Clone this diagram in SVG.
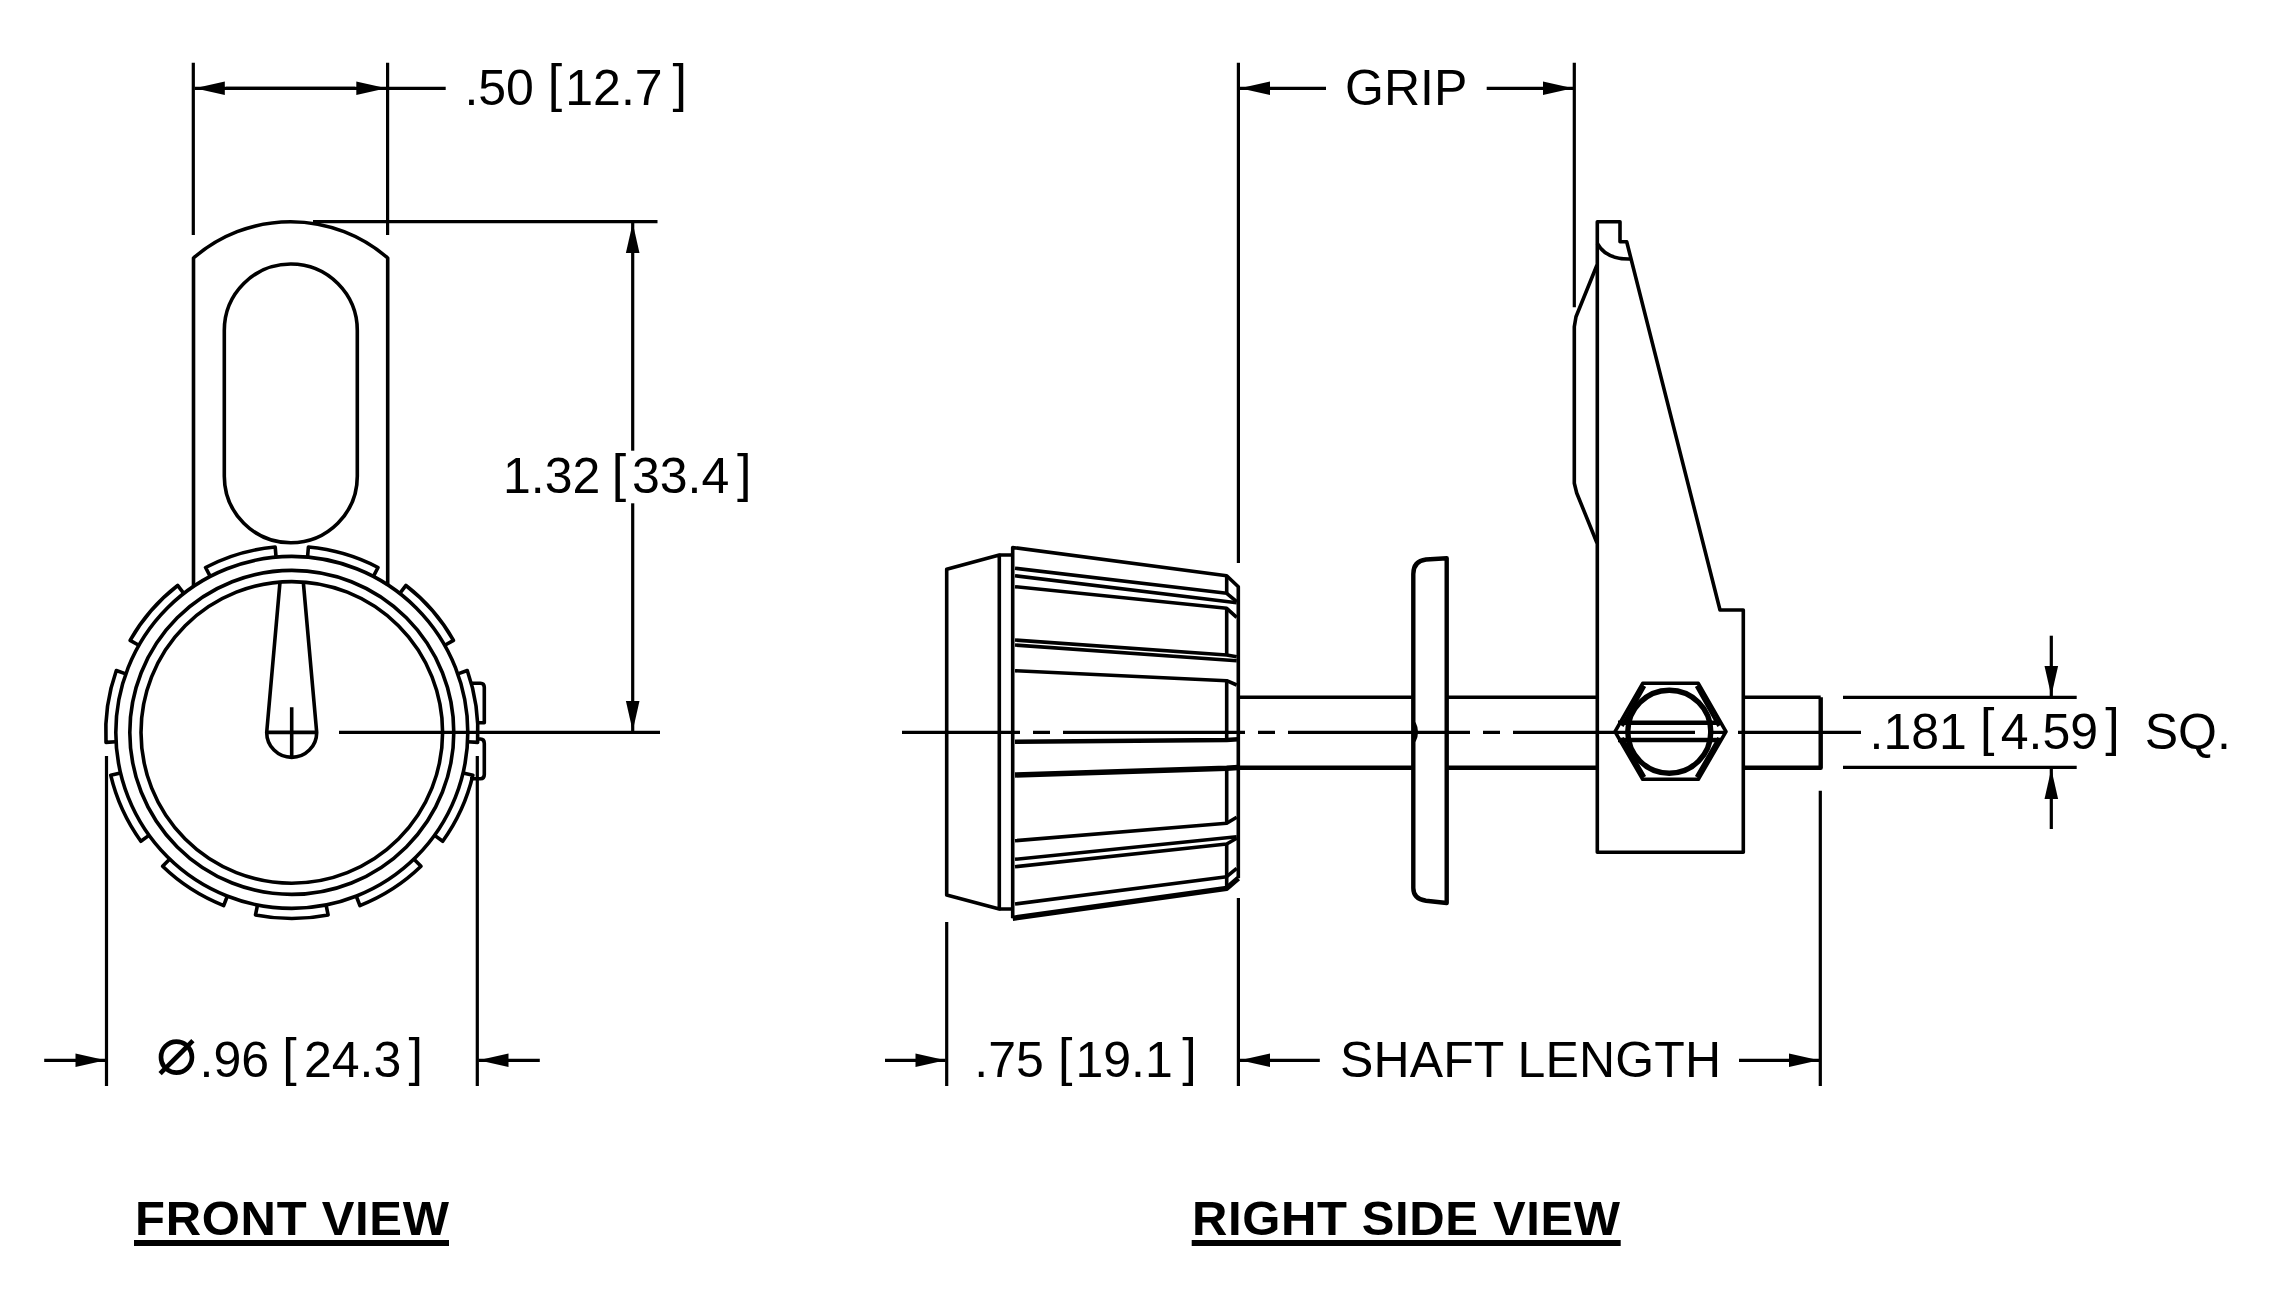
<svg xmlns="http://www.w3.org/2000/svg" width="2269" height="1316" viewBox="0 0 2269 1316">
<style>
.l{fill:none;stroke:#000;stroke-width:3.6;stroke-linejoin:round}
.t{stroke-width:4.4}
.h{stroke-width:5.4}
.d{fill:none;stroke:#000;stroke-width:3.2}
.a{marker-end:url(#arrow)}
text{font-family:"Liberation Sans",Arial,sans-serif;font-size:50px;fill:#000}
.b{font-size:52px;font-weight:normal}
.title{font-weight:bold;font-size:49px}
</style>
<defs>
<marker id="arrow" markerUnits="userSpaceOnUse" markerWidth="32" markerHeight="16" refX="31" refY="8" orient="auto" viewBox="0 0 32 16"><path d="M1,1.2 L31,8 L1,14.8 Z" fill="#000"/></marker>
<path id="tooth" class="l" d="M-34.3,-172.7 L-36.3,-182.5 A186,186 0 0 1 36.3,-182.5 L34.3,-172.7"/>
</defs>
<rect width="2269" height="1316" fill="#fff"/>
<g id="front-view">
<g id="handle">
<path class="l" d="M193.5,586 V258 A148,148 0 0 1 387.7,258 V586"/>
<path class="l" d="M224.3,330.5 A66.5,66.5 0 0 1 357.3,330.5 V476.2 A66.5,66.5 0 0 1 224.3,476.2 Z"/>
</g>
<g id="dial">
<circle class="l" cx="291.8" cy="732.4" r="176" fill="#fff"/>
<circle class="l" cx="291.8" cy="732.4" r="162"/>
<circle class="l" cx="291.8" cy="732.4" r="150.8"/>
<use href="#tooth" transform="translate(291.8 732.4) rotate(180)"/>
<use href="#tooth" transform="translate(291.8 732.4) rotate(212.727)"/>
<use href="#tooth" transform="translate(291.8 732.4) rotate(245.455)"/>
<use href="#tooth" transform="translate(291.8 732.4) rotate(278.182)"/>
<use href="#tooth" transform="translate(291.8 732.4) rotate(310.909)"/>
<use href="#tooth" transform="translate(291.8 732.4) rotate(343.636)"/>
<use href="#tooth" transform="translate(291.8 732.4) rotate(16.364)"/>
<use href="#tooth" transform="translate(291.8 732.4) rotate(49.091)"/>
<use href="#tooth" transform="translate(291.8 732.4) rotate(81.818)"/>
<use href="#tooth" transform="translate(291.8 732.4) rotate(114.545)"/>
<use href="#tooth" transform="translate(291.8 732.4) rotate(147.273)"/>
<path class="l" d="M472,683.3 H480.5 Q484.3,683.3 484.3,687.5 V722.7 H476"/>
<path class="l" d="M476,739 H480.5 Q484.3,739 484.3,743.5 V774.5 Q484.3,778.7 480.5,778.7 H470"/>
<path class="l" d="M280,582 L266.7,732.4 A25,25 0 0 0 316.7,732.4 L303.3,582"/>
<path class="l" d="M266.7,732.4 H316.7 M291.7,707.3 V757"/>
</g>
</g>
<g id="right-side-view">
<g id="knob">
<path class="l" d="M999.3,555 L946.7,569.3 V895 L999.3,909 Z"/>
<path class="l" d="M999.3,555 H1012.7 M999.3,909 H1012.7"/>
<path class="l" d="M1012.7,918.3 V547.5 L1226.7,575.7 L1238.3,586.7 V878.3"/>
<path class="l h" d="M1012.7,918.3 L1226.7,888.3 L1238.3,878.3"/>
<path class="l" d="M1226.7,575.7 V593.3 M1226.7,608.3 V655 M1226.7,680.7 V740 M1226.7,768.3 V823.3 M1226.7,844 V876.7 V888"/>
<path class="l" d="M1015,568.3 L1226.7,593.3 L1236.7,601.7"/>
<path class="l" d="M1015,575.7 L1236.7,602.7"/>
<path class="l" d="M1015,586.7 L1226.7,608.3 L1236.7,617.3"/>
<path class="l" d="M1015,640 L1226.7,655 L1236.7,656.7"/>
<path class="l" d="M1015,645 L1236.7,660.7"/>
<path class="l" d="M1015,670.7 L1226.7,680.7 L1236.7,685"/>
<path class="l t" d="M1015,741.7 L1226.7,740 L1238,739.3"/>
<path class="l h" d="M1015,775 L1226.7,768.3 L1238,767.5"/>
<path class="l" d="M1015,840.7 L1226.7,823.3 L1236.7,817.3"/>
<path class="l" d="M1015,859.3 L1236.7,836.7"/>
<path class="l" d="M1015,866.7 L1226.7,844 L1236.7,838.3"/>
<path class="l" d="M1015,904 L1226.7,876.7 L1236.7,868.3"/>
</g>
<g id="shaft">
<path class="l" d="M1240,697.3 H1413 M1447,697.3 H1597"/>
<path class="l t" d="M1238,767.7 H1413 M1447,767.7 H1597"/>
<path class="l" d="M1745,697.3 H1820.7"/>
<path class="l t" d="M1745,767.7 H1820.7 V697.3"/>
</g>
<g id="disk">
<path class="l t" d="M1446.7,558.3 L1426,559.5 Q1413.3,561 1413.3,574 V888 Q1413.3,899 1426,900.8 L1446.7,903 Z"/>
<path class="l" d="M1414,723 Q1418.5,732 1414,741"/>
</g>
<g id="lever">
<path class="l" d="M1597.3,852.3 H1743.3 V610 H1720 L1626.7,241.7 H1620 V221.7 H1597.3 Z"/>
<path class="l" d="M1597.3,243.3 Q1606,259.5 1630,259"/>
<path class="l" d="M1597,265 L1576,316.7 L1574.3,326.7 V483.3 L1576.7,493 L1597,543"/>
</g>
<g id="screw">
<path class="l" d="M1615,731.7 L1642.7,683.3 H1698.3 L1726,731.7 L1698.3,779.3 H1642.7 Z"/>
<circle class="l h" cx="1669.3" cy="731.7" r="41.5"/>
<path class="l" d="M1644.5,686 L1622,726 M1696.5,686 L1719,726 M1622,738 L1644.5,777 M1719,738 L1696.5,777"/>
<path class="l t" d="M1618,722.7 H1721 M1618,740 H1721"/>
</g>
</g>
<g id="connectors">
<path class="d" d="M902,732.3 H1020 M1033,732.3 H1050 M1063,732.3 H1245 M1258,732.3 H1275 M1288,732.3 H1470 M1483,732.3 H1500 M1513,732.3 H1695 M1708,732.3 H1726 M1738,732.3 H1861"/>
<path class="d" d="M193.3,62.7 V235 M387.6,62.7 V235 M313,221.7 H657.5 M339,732.3 H660"/>
<path class="d" d="M106.5,756 V1086 M477.3,756 V1086 M946.7,922 V1086 M1238.4,62.7 V563 M1238.4,898 V1086 M1574.3,62.7 V307.3 M1820.3,790.7 V1086"/>
<path class="d" d="M1843,697.3 H2076.7 M1843,767.3 H2076.7"/>
<line class="d a" x1="355" y1="88.3" x2="194.8" y2="88.3"/>
<line class="d a" x1="226" y1="88.3" x2="386.3" y2="88.3"/>
<line class="d" x1="386" y1="88.3" x2="445.7" y2="88.3"/>
<line class="d a" x1="632.7" y1="450.7" x2="632.7" y2="223"/>
<line class="d a" x1="632.7" y1="503.3" x2="632.7" y2="731"/>
<line class="d a" x1="1326" y1="88.3" x2="1240" y2="88.3"/>
<line class="d a" x1="1486.7" y1="88.3" x2="1573" y2="88.3"/>
<line class="d a" x1="44.2" y1="1060.3" x2="105.5" y2="1060.3"/>
<line class="d a" x1="539.8" y1="1060.3" x2="478.5" y2="1060.3"/>
<line class="d a" x1="885" y1="1060.3" x2="945.5" y2="1060.3"/>
<line class="d a" x1="1319.8" y1="1060.3" x2="1240" y2="1060.3"/>
<line class="d a" x1="1739" y1="1060.3" x2="1819" y2="1060.3"/>
<line class="d a" x1="2051.3" y1="635.7" x2="2051.3" y2="696"/>
<line class="d a" x1="2051.3" y1="829" x2="2051.3" y2="769"/>
</g>
<g id="labels">
<text x="464.4" y="104.5">.50 <tspan class="b" x="547.7" y="101.3">[</tspan><tspan x="565.3" y="104.5">12.7</tspan><tspan class="b" x="672.5" y="101.3">]</tspan></text>
<text x="1345" y="105">GRIP</text>
<text x="503" y="492.7">1.32 <tspan class="b" x="611.7" y="490.7">[</tspan><tspan x="632" y="492.7">33.4</tspan><tspan class="b" x="737" y="490.7">]</tspan></text>
<text x="1869.5" y="749">.181 <tspan class="b" x="1980" y="745.3">[</tspan><tspan x="2000.7" y="749">4.59</tspan><tspan class="b" x="2105.3" y="745.3">]</tspan> <tspan x="2144.7" y="749">SQ.</tspan></text>
<text x="155.6" y="1074" style="font-family:'DejaVu Sans',sans-serif;font-size:68px;font-weight:200">⌀</text>
<text x="199.5" y="1077">.96 <tspan class="b" x="282.3" y="1074.7">[</tspan><tspan x="304" y="1077">24.3</tspan><tspan class="b" x="408.5" y="1074.7">]</tspan></text>
<text x="974.3" y="1077">.75 <tspan class="b" x="1058" y="1075">[</tspan><tspan x="1075.4" y="1077">19.1</tspan><tspan class="b" x="1182.3" y="1075">]</tspan></text>
<text x="1340" y="1077" textLength="381" lengthAdjust="spacing">SHAFT LENGTH</text>
<text class="title" x="135" y="1235" textLength="314" lengthAdjust="spacing">FRONT VIEW</text>
<rect x="134" y="1240" width="315" height="6" fill="#000"/>
<text class="title" x="1192" y="1235" textLength="428" lengthAdjust="spacing">RIGHT SIDE VIEW</text>
<rect x="1191.7" y="1240" width="429" height="6" fill="#000"/>
</g>
</svg>
